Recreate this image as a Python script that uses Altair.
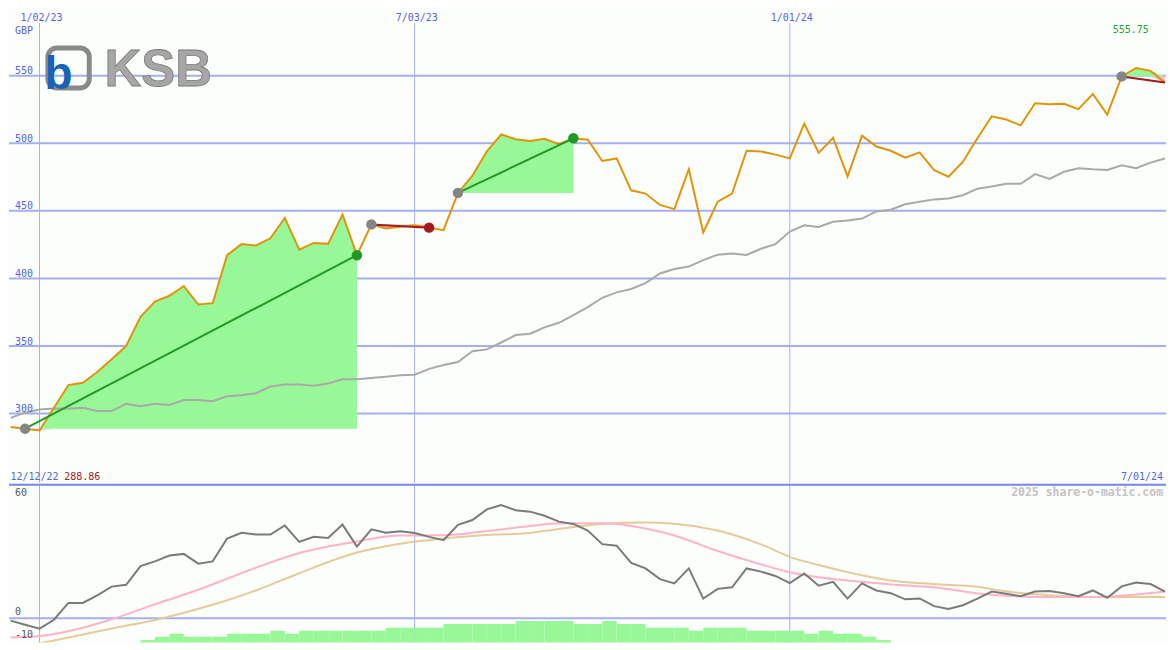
import altair as alt
import pandas as pd
from datetime import date, timedelta

# ---------------- data ----------------
START = date(2022, 12, 19)          # weekly observations (Mondays)

price = [290.0, 288.86, 287.5, 304.3, 321.1, 322.8, 330.8, 340.3, 350.0, 371.6,
         382.9, 387.2, 394.4, 380.7, 381.7, 417.2, 425.4, 424.4, 429.7, 444.8,
         421.3, 426.3, 425.6, 447.3, 417.2, 440.0, 436.9, 438.3, 439.3, 437.6,
         435.7, 463.3, 476.0, 494.0, 506.5, 503.0, 501.7, 503.4, 499.4, 503.7,
         502.7, 486.9, 488.8, 465.2, 462.8, 454.4, 451.3, 480.8, 434.0, 456.8,
         462.8, 494.5, 494.0, 491.6, 488.8, 514.5, 492.9, 504.1, 475.3, 505.6,
         497.6, 494.5, 489.3, 493.3, 480.1, 475.3, 486.4, 503.7, 520.0, 517.6,
         513.3, 529.6, 528.9, 529.3, 525.3, 536.5, 521.2, 549.5, 555.75, 553.6,
         545.0]

moving_avg = [296.8, 300.7, 303.1, 303.8, 303.6, 304.3, 301.9, 301.9, 307.2, 305.5,
              307.2, 306.3, 310.1, 310.1, 309.2, 312.8, 313.5, 315.1, 320.0, 321.6,
              321.6, 320.7, 322.3, 325.4, 325.4, 326.4, 327.2, 328.3, 328.8, 333.1,
              336.0, 338.2, 346.1, 347.5, 352.6, 358.1, 359.1, 363.8, 367.2, 372.8,
              378.8, 385.7, 389.7, 392.2, 396.5, 403.7, 407.0, 408.8, 413.6, 417.6,
              418.4, 417.4, 422.0, 425.4, 434.7, 439.3, 438.1, 441.9, 442.9, 444.3,
              449.6, 450.8, 454.9, 456.8, 458.5, 459.2, 461.6, 466.4, 468.1, 470.0,
              470.0, 477.2, 473.6, 478.9, 481.6, 480.8, 480.3, 483.7, 481.6, 485.7,
              488.8]

momentum = [-1.1, -2.9, -4.6, -0.7, 6.7, 6.7, 10.0, 13.9, 14.7, 22.9,
            25.0, 27.6, 28.3, 24.0, 25.0, 35.1, 37.6, 36.8, 36.8, 40.8,
            33.6, 35.8, 35.3, 41.2, 31.5, 39.1, 37.6, 38.3, 37.5, 35.8,
            34.3, 41.1, 43.2, 47.9, 49.8, 47.5, 46.9, 45.1, 42.5, 41.5,
            38.6, 32.6, 31.9, 24.3, 21.9, 17.2, 15.3, 21.9, 8.6, 12.9,
            13.6, 21.9, 20.5, 18.6, 15.4, 19.7, 14.3, 16.0, 8.6, 15.3,
            12.2, 11.0, 8.3, 8.7, 5.3, 4.0, 5.7, 8.6, 11.7, 10.7,
            9.7, 11.7, 12.0, 11.0, 9.7, 12.2, 9.0, 14.0, 15.7, 15.0,
            11.7]

pink_weeks = [0, 2, 5, 7, 10, 13, 17, 20, 24, 27, 30, 33, 36, 38, 41, 44, 46, 49, 52, 54,
              56, 59, 61, 64, 67, 69, 72, 75, 78, 80]
pink_vals = [-8.5, -7.9, -4.2, -0.5, 6.1, 12.5, 22.2, 28.7, 33.8, 36.4,
             36.5, 38.4, 40.6, 41.8, 41.8, 39.5, 36.4, 29.6, 23.7, 20.2,
             18.0, 16.0, 14.8, 13.6, 10.9, 9.9, 9.3, 9.3, 10.4, 11.7]

tan_weeks = [0, 3, 7, 10, 14, 17, 20, 24, 27, 30, 33, 36, 38, 41, 44, 46, 49, 52, 54, 56,
             59, 61, 64, 67, 69, 72, 75, 80]
tan_vals = [-13.6, -9.8, -4.6, -0.8, 5.9, 12.2, 19.8, 28.9, 32.8, 35.1,
            36.6, 37.5, 39.3, 41.5, 42.1, 41.6, 38.6, 32.5, 27.0, 23.4,
            18.9, 16.6, 15.0, 13.8, 11.8, 10.1, 9.3, 9.3]

bar_weeks = list(range(9, 61))
bar_vals = [-9.6, -8.2, -6.9, -8.2, -8.2, -8.2, -6.9, -6.9, -6.9, -5.6,
            -6.9, -5.6, -5.6, -5.6, -5.6, -5.6, -5.6, -4.2, -4.2, -4.2,
            -4.2, -2.6, -2.6, -2.6, -2.6, -2.6, -1.3, -1.3, -1.3, -1.3,
            -2.6, -2.6, -1.3, -2.6, -2.6, -4.2, -4.2, -4.2, -5.6, -4.2,
            -4.2, -4.2, -5.6, -5.6, -5.6, -5.6, -6.9, -5.6, -6.9, -6.9,
            -8.2, -9.6]

# trades: (entry week, exit week, result)
trades = [(1, 24, "win"), (25, 29, "loss"), (31, 39, "win"), (77, 80, "open")]

price_grid = [300, 350, 400, 450, 500, 550]
date_grid = ["2023-01-02", "2023-07-03", "2024-01-01"]
date_grid_labels = ["1/02/23", "7/03/23", "1/01/24"]

# ---------------- helpers / tables ----------------
def wk(k):
    return (START + timedelta(weeks=k)).isoformat()

N = len(price)
weeks = [wk(k) for k in range(N)]

main_df = pd.DataFrame({"date": weeks, "price": price, "ma": moving_avg, "mom": momentum})
pink_df = pd.DataFrame({"date": [wk(k) for k in pink_weeks], "v": pink_vals})
tan_df = pd.DataFrame({"date": [wk(k) for k in tan_weeks], "v": tan_vals})
bar_df = pd.DataFrame({"date": [wk(k) for k in bar_weeks],
                       "end": [wk(k + 1) for k in bar_weeks], "v": bar_vals})

GREEN_FILL = "#98f898"
PINK_FILL = "#ffb8c8"
WIN = "#229922"
LOSS = "#a01c1c"

fill_rows, trend_rows, dot_rows = [], [], []
for i, (a, b, res) in enumerate(trades):
    base = price[a]
    for k in range(a, b + 1):
        fill_rows.append({"trade": i, "date": weeks[k], "base": base,
                          "hi": max(price[k], base), "lo": min(price[k], base)})
    col = WIN if res == "win" else LOSS
    trend_rows.append({"trade": i, "date": weeks[a], "v": price[a], "c": col})
    trend_rows.append({"trade": i, "date": weeks[b], "v": price[b], "c": col})
    dot_rows.append({"date": weeks[a], "v": price[a], "c": "#858585"})
    if res != "open":
        dot_rows.append({"date": weeks[b], "v": price[b], "c": col})
fill_df = pd.DataFrame(fill_rows)
trend_df = pd.DataFrame(trend_rows)
dot_df = pd.DataFrame(dot_rows)

pgrid_df = pd.DataFrame({"v": price_grid, "lab": [str(p) for p in price_grid]})
dgrid_df = pd.DataFrame({"date": date_grid, "lab": date_grid_labels})

# ---------------- layout ----------------
W = 1159
SX = W / 1175
SY = 634 / 650
HT = 475
HB = 159

FONT = "DejaVu Sans Mono"
BLUE_TXT = "#5563ee"
GRID = "#a6aef2"

xscale = alt.Scale(type="utc", domain=[
    alt.DateTime(year=2022, month=12, date=18, hours=4, minutes=30, utc=True),
    alt.DateTime(year=2024, month=7, date=1, hours=12, utc=True)])
ytop = alt.Scale(domain=[248.85, 599.7], nice=False, zero=False)
ybot = alt.Scale(domain=[-10.7, 59.2], nice=False, zero=False)


def X(f="date"):
    return alt.X(f"{f}:T", scale=xscale, axis=None)


def YT(f):
    return alt.Y(f"{f}:Q", scale=ytop, axis=None)


def YB(f):
    return alt.Y(f"{f}:Q", scale=ybot, axis=None)


# ---- top panel ----
hgrid = alt.Chart(pgrid_df).mark_rule(color=GRID, strokeWidth=2).encode(y=YT("v"))
vgrid_top = alt.Chart(dgrid_df).mark_rule(color=GRID, strokeWidth=1).encode(
    x=X(), y=alt.value(15 * SY), y2=alt.value(HT))
plabels = alt.Chart(pgrid_df).mark_text(
    align="left", baseline="alphabetic", dy=-1.5, font=FONT, fontSize=10, color=BLUE_TXT
).encode(x=alt.value(6 * SX), y=YT("v"), text="lab:N")
dlabels = alt.Chart(dgrid_df).mark_text(
    align="center", baseline="alphabetic", dx=2, font=FONT, fontSize=10, color=BLUE_TXT
).encode(x=X(), y=alt.value(12.7 * SY), text="lab:N")

pink_area = alt.Chart(fill_df).mark_area(color=PINK_FILL, opacity=1, clip=True).encode(
    x=X(), y=YT("lo"), y2="base:Q", detail="trade:N")
green_area = alt.Chart(fill_df).mark_area(color=GREEN_FILL, opacity=1, clip=True).encode(
    x=X(), y=YT("hi"), y2="base:Q", detail="trade:N")
ma_line = alt.Chart(main_df).mark_line(color="#a9a9a9", strokeWidth=2, clip=True).encode(
    x=X(), y=YT("ma"))
price_line = alt.Chart(main_df).mark_line(color="#e0940a", strokeWidth=2, clip=True).encode(
    x=X(), y=YT("price"))
trend = alt.Chart(trend_df).mark_line(strokeWidth=2, clip=True).encode(
    x=X(), y=YT("v"), detail="trade:N", color=alt.Color("c:N", scale=None))
dots = alt.Chart(dot_df).mark_point(filled=True, size=110, opacity=1, clip=True).encode(
    x=X(), y=YT("v"), color=alt.Color("c:N", scale=None))

def txt(t, x, y, color, size=10, align="left", weight="normal", font=FONT):
    return alt.Chart(pd.DataFrame({"t": [t]})).mark_text(
        align=align, baseline="alphabetic", font=font, fontSize=size,
        fontWeight=weight, color=color
    ).encode(x=alt.value(x), y=alt.value(y), text="t:N")

gbp = txt("GBP", 6 * SX, 25.7 * SY, BLUE_TXT)
hi_lab = txt("555.75", 1121 * SX, 25 * SY, "#2e9e2e")
start_lab = txt("12/12/22", 1.5 * SX, 484 * SY, BLUE_TXT)
low_lab = txt("288.86", 56 * SX, 484 * SY, "#a52222")
end_lab = txt("7/01/24", 1172 * SX, 484 * SY, BLUE_TXT, align="right")

logo_box = alt.Chart(pd.DataFrame({"a": [0]})).mark_rect(
    cornerRadius=9, fillOpacity=0, stroke="#8a8a8a", strokeWidth=5
).encode(x=alt.value(39.5 * SX), x2=alt.value(81.5 * SX),
         y=alt.value(40.5 * SY), y2=alt.value(81.5 * SY))
logo_b = txt("b", 36 * SX, 83 * SY, "#1a62b8", size=46, weight="bold", font="Liberation Sans")
logo_txt = alt.Chart(pd.DataFrame({"t": ["KSB"]})).mark_text(
    align="left", baseline="alphabetic", font="Liberation Sans", fontSize=51,
    fontWeight="bold", color="#a6a6a6", stroke="#7a7a7a", strokeWidth=0.8
).encode(x=alt.value(97 * SX), y=alt.value(80 * SY), text="t:N")

top = alt.layer(
    hgrid, vgrid_top, pink_area, green_area, ma_line, price_line, trend, dots,
    plabels, dlabels, gbp, hi_lab, start_lab, low_lab, end_lab,
    logo_box, logo_b, logo_txt
).properties(width=W, height=HT)

# ---- bottom panel ----
zero_df = pd.DataFrame({"v": [0]})
divider = alt.Chart(zero_df).mark_rule(color="#7884ee", strokeWidth=2).encode(
    y=alt.value(1), x=alt.value(0), x2=alt.value(W))
zero_line = alt.Chart(zero_df).mark_rule(color=GRID, strokeWidth=2).encode(y=YB("v"))
vgrid_bot = alt.Chart(dgrid_df).mark_rule(color=GRID, strokeWidth=1).encode(
    x=X(), y=alt.value(2), y2=alt.value(HB))
bars = alt.Chart(bar_df).mark_rect(color=GREEN_FILL, clip=True).encode(
    x=X(), x2="end:T", y=YB("v"), y2=alt.value(HB + 2))
tan_line = alt.Chart(tan_df).mark_line(color="#e6cb9a", strokeWidth=2, clip=True,
                                       interpolate="monotone").encode(x=X(), y=YB("v"))
pink_line = alt.Chart(pink_df).mark_line(color="#ffb3c6", strokeWidth=2, clip=True,
                                         interpolate="monotone").encode(x=X(), y=YB("v"))
mom_line = alt.Chart(main_df).mark_line(color="#7a7a7a", strokeWidth=2, clip=True).encode(
    x=X(), y=YB("mom"))

lab_df = pd.DataFrame({"v": [0, -10], "lab": ["0", "-10"]})
blabels = alt.Chart(lab_df).mark_text(
    align="left", baseline="alphabetic", dy=-3, font=FONT, fontSize=10, color="#5a5a5a"
).encode(x=alt.value(6 * SX), y=YB("v"), text="lab:N")
lab60 = txt("60", 6 * SX, (500 - 487) * SY, "#5a5a5a")
wmark = txt("2025 share-o-matic.com", 1172 * SX, (500 - 487) * SY, "#c4c4c4",
            size=11.5, align="right", weight="bold")

bottom = alt.layer(
    zero_line, vgrid_bot, bars, tan_line, pink_line, mom_line, divider,
    blabels, lab60, wmark
).properties(width=W, height=HB)

chart = alt.vconcat(top, bottom, spacing=0).properties(
    padding=0, background="#fbfefb"
).configure_view(stroke=None)

chart.save("out.html", embed_options={"renderer": "svg", "actions": False})
